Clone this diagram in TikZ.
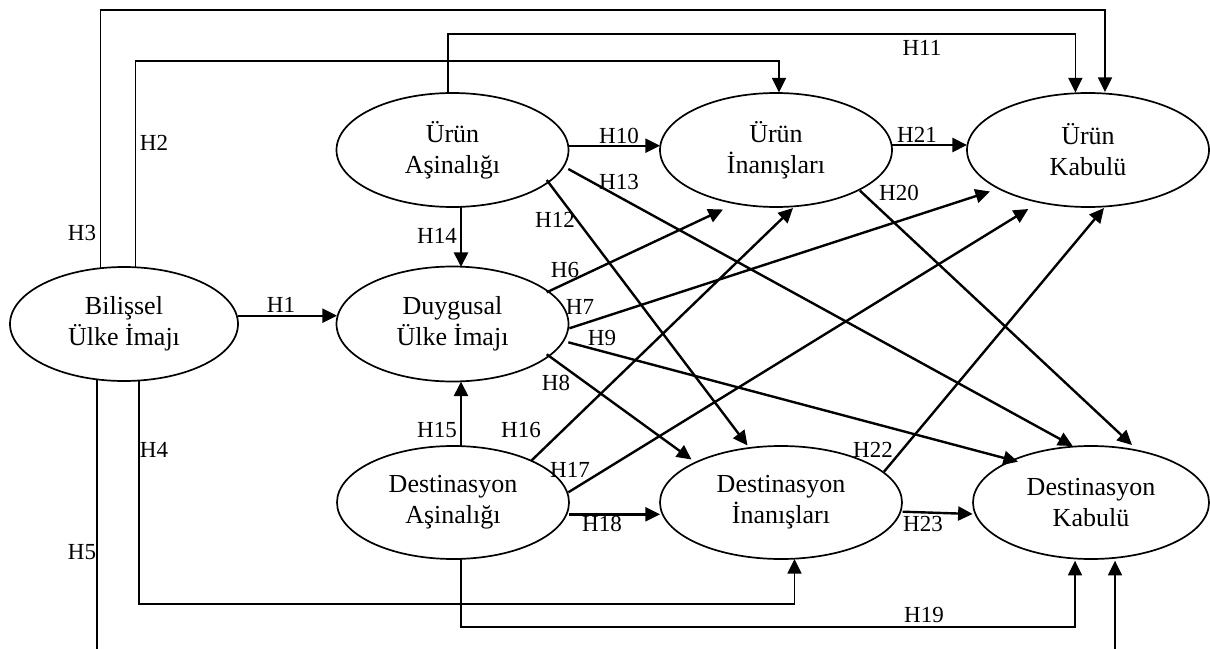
\documentclass[tikz,border=0pt]{standalone}
\usepackage{fontspec}
\setmainfont{Liberation Serif}
\usetikzlibrary{arrows.meta,calc,shapes.geometric}

\begin{document}
\begin{tikzpicture}[x=0.5pt,y=-0.5pt,
  construct/.style={ellipse,draw,line width=0.85pt,inner sep=0pt,outer sep=0pt,
    align=center,font=\fontsize{13}{15.5}\selectfont},
  hyp/.style={inner sep=0pt,font=\fontsize{11.5}{13}\selectfont},
  tip/.style={-{Triangle[length=7.3pt,width=7pt]}},
  link/.style={line width=1.2pt,tip},
  elbow/.style={line width=0.85pt,tip}]

\useasboundingbox (0,0) rectangle (1210,648);
\clip (0,0) rectangle (1210,648);

% constructs
\node[construct,minimum width=114pt,minimum height=57pt] (bil) at (124,324) {Bilişsel\\Ülke İmajı};
\node[construct,minimum width=116pt,minimum height=57pt] (ua) at (452.5,150) {Ürün\\Aşinalığı};
\node[construct,minimum width=116pt,minimum height=57.5pt] (dy) at (452.5,324) {Duygusal\\Ülke İmajı};
\node[construct,minimum width=116pt,minimum height=56.5pt] (da) at (453,502.5) {Destinasyon\\Aşinalığı};
\node[construct,minimum width=116pt,minimum height=57pt] (ui) at (776,150) {Ürün\\İnanışları};
\node[construct,minimum width=121pt,minimum height=57pt] (uk) at (1088,150) {Ürün\\Kabulü};
\node[construct,minimum width=121pt,minimum height=56.5pt] (di) at (781,502.5) {Destinasyon\\İnanışları};
\node[construct,minimum width=118pt,minimum height=56.5pt] (dk) at (1091,502.5) {Destinasyon\\Kabulü};

% straight paths
\draw[link] ($(bil.center)+(114,-8.3)$) -- ($(dy.center)+(-115.5,-8.3)$);
\draw[link] ($(ua.center)+(116.5,-4.3)$) -- ($(ui.center)+(-116,-4.3)$);
\draw[link] ($(ui.center)+(116,-5)$) -- ($(uk.center)+(-121,-5)$);
\draw[link] ($(da.center)+(116,11.8)$) -- ($(di.center)+(-121,11.8)$);
\draw[link] ($(di.center)+(121.7,9.2)$) -- ($(dk.center)+(-118.3,11.5)$);
\draw[link] ($(ua.center)+(8.5,57)$) -- ($(dy.center)+(8.5,-57)$);
\draw[link] ($(da.center)+(8,-56.5)$) -- ($(dy.center)+(8.5,57.5)$);

% diagonal paths
\draw[link] ($(dy.center)+(94.2,-31.7)$) -- ($(ui.center)+(-53,59.5)$);
\draw[link] ($(dy.center)+(116.8,4.3)$) -- ($(uk.center)+(-98,41.5)$);
\draw[link] ($(dy.center)+(94.2,30.3)$) -- ($(di.center)+(-89.5,-43)$);
\draw[link] ($(dy.center)+(115.8,18.3)$) -- ($(dk.center)+(-73,-40.8)$);
\draw[link] ($(ua.center)+(94.2,30)$) -- ($(di.center)+(-33.5,-57)$);
\draw[link] ($(ua.center)+(115.8,19)$) -- ($(dk.center)+(-18.3,-56.5)$);
\draw[link] ($(da.center)+(78,-41.5)$) -- ($(ui.center)+(17,58)$);
\draw[link] ($(da.center)+(115.3,-10.2)$) -- ($(uk.center)+(-59.7,59)$);
\draw[link] ($(ui.center)+(84,40.7)$) -- ($(dk.center)+(41,-57.5)$);
\draw[link] ($(di.center)+(103,-30.8)$) -- ($(uk.center)+(16,58)$);

% routed paths
\draw[elbow] ($(bil.center)+(-23.4,-56)$) -- ++(0,-258) -| ($(uk.center)+(17,-58)$);
\draw[elbow] ($(bil.center)+(11.5,-56.7)$) -- ++(0,-206.6) -| ($(ui.center)+(3,-57.5)$);
\draw[elbow] ($(ua.center)+(-4.5,-57)$) -- ++(0,-58.7) -| ($(uk.center)+(-12.6,-57.5)$);
\draw[elbow] ($(bil.center)+(15,56)$) -- ++(0,224.3) -| ($(di.center)+(13.5,56.5)$);
\draw[elbow] ($(da.center)+(8,56.5)$) -- ++(0,67.7) -| ($(dk.center)+(-16,58.2)$);
\draw[elbow] ($(bil.center)+(-26.7,55.5)$) -- ++(0,290) -| ($(dk.center)+(24,58.2)$);

% hypothesis labels
\node[hyp] (h1) at (281,305) {H1};
\node[hyp] (h2) at (154,143) {H2};
\node[hyp] (h3) at (82,233) {H3};
\node[hyp] (h4) at (154,450) {H4};
\node[hyp] (h5) at (82,552) {H5};
\node[hyp] (h6) at (565,270) {H6};
\node[hyp] (h7) at (580,307) {H7};
\node[hyp] (h8) at (556,383) {H8};
\node[hyp] (h9) at (602,338) {H9};
\node[hyp] (h10) at (619,136) {H10};
\node[hyp] (h11) at (922,48) {H11};
\node[hyp] (h12) at (555,220) {H12};
\node[hyp] (h13) at (619,182) {H13};
\node[hyp] (h14) at (437,236) {H14};
\node[hyp] (h15) at (437,430) {H15};
\node[hyp] (h16) at (521,430) {H16};
\node[hyp] (h17) at (570,470) {H17};
\node[hyp] (h18) at (602,524) {H18};
\node[hyp] (h19) at (924,615) {H19};
\node[hyp] (h20) at (899,193) {H20};
\node[hyp] (h21) at (917,135) {H21};
\node[hyp] (h22) at (873,450) {H22};
\node[hyp] (h23) at (923,524) {H23};
\end{tikzpicture}
\end{document}
